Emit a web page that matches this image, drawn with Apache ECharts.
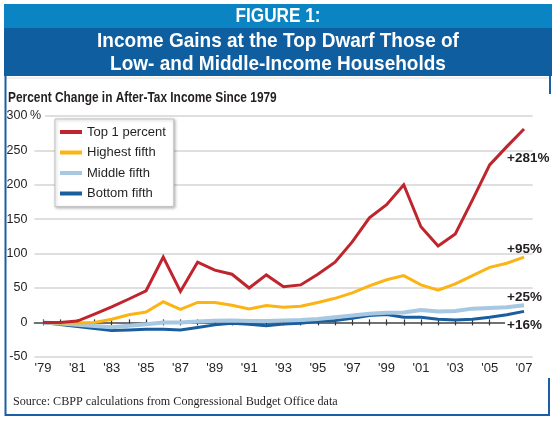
<!DOCTYPE html>
<html>
<head>
<meta charset="utf-8">
<script src="https://cdn.jsdelivr.net/npm/echarts@6/dist/echarts.min.js"></script>
<style>
  html, body { margin: 0; padding: 0; background: #fff; }
  #main { width: 555px; height: 421px; }
</style>
</head>
<body>
<div id="main"></div>
<script>
// years on the x axis
const years = ['1979', '1980', '1981', '1982', '1983', '1984', '1985', '1986', '1987', '1988',
  '1989', '1990', '1991', '1992', '1993', '1994', '1995', '1996', '1997', '1998',
  '1999', '2000', '2001', '2002', '2003', '2004', '2005', '2006', '2007']

// percent change in after-tax income since 1979
const top1 = [0, 0, 2, 12, 22.5, 34, 46, 95, 45, 87.5, 76, 70, 50, 69, 52, 54.5, 70, 87.5, 117, 152,
  171, 200, 139, 111, 128.5, 178, 229, 255.5, 281]
const highest = [0, -1, -1, 0, 4.5, 11, 15, 30, 19, 29, 29, 25, 19.5, 24.5, 22, 23.5, 29, 35, 43, 53,
  62, 68, 54.5, 47, 56, 68, 80, 86, 95]
const middle = [0, -1.7, -3.5, -5.3, -7, -4.8, -2.7, 0, 0, 1.2, 2.5, 2.7, 2, 2, 2.7, 3.5, 5, 7.5, 10, 12.5,
  14, 14.3, 18, 15.7, 16.7, 20, 21, 22, 25]
const bottom = [0, -3, -6, -9, -11.7, -11, -10, -10, -11, -7.5, -3.6, -1.2, -2.7, -5, -2.2, -1.2, 1.7, 2.7, 6, 10,
  11.5, 7.5, 7.5, 4.6, 3.6, 4.6, 7.5, 11, 16]

const seriesNames = ['Top 1 percent', 'Highest fifth', 'Middle fifth', 'Bottom fifth']

const sans = '"Liberation Sans", Arial, sans-serif'
const ink = '#231f20'

const chart = echarts.init(document.getElementById('main'))

// label at the end of each line, e.g. +281%
function endMark (data, dx, dy, bg) {
  const last = data.length - 1
  return {
    symbol: 'circle',
    symbolSize: 0,
    silent: true,
    label: {
      show: true,
      position: 'right',
      distance: 5,
      offset: [dx, dy],
      formatter: '+' + data[last] + '%',
      color: ink,
      fontFamily: sans,
      fontWeight: 'bold',
      fontSize: 13.5,
      lineHeight: 13,
      backgroundColor: bg || 'transparent',
      padding: [0, 2, 0, 2]
    },
    data: [{ coord: [years[last], data[last]] }]
  }
}

function line (name, data, color, width, mark) {
  return {
    name: name,
    type: 'line',
    data: data,
    showSymbol: false,
    symbol: 'none',
    lineStyle: { color: color, width: width, join: 'miter' },
    itemStyle: { color: color },
    markPoint: mark,
    animation: false
  }
}

// condensed text: the original uses a narrow face, so squeeze a normal one
function label (text, x, y, size, weight, color, align, sx, family) {
  return {
    type: 'text',
    x: x,
    y: y,
    scaleX: sx,
    z: 10,
    style: {
      text: text,
      fill: color,
      font: weight + ' ' + size + 'px ' + (family || sans),
      align: align,
      verticalAlign: 'middle'
    }
  }
}

const option = {
  backgroundColor: '#fff',
  animation: false,
  graphic: [
    { type: 'rect', shape: { x: 4, y: 4, width: 548, height: 24 }, style: { fill: '#0b84c4' }, z: -1 },
    { type: 'rect', shape: { x: 4, y: 28, width: 548, height: 48 }, style: { fill: '#0f5ea0' }, z: -1 },
    { type: 'line', shape: { x1: 6, y1: 78, x2: 549, y2: 78 }, style: { stroke: '#e2e2e2', lineWidth: 1 } },
    { type: 'polyline', shape: { points: [[5.5, 76], [5.5, 415], [549, 415], [549, 378]] }, style: { stroke: '#1a5fa3', lineWidth: 2, fill: null } },
    { type: 'line', shape: { x1: 550, y1: 76, x2: 550, y2: 94 }, style: { stroke: '#1a5fa3', lineWidth: 2 } },
    label('FIGURE 1:', 278, 16, 20, 'bold', '#fff', 'center', 0.86),
    label('Income Gains at the Top Dwarf Those of', 278, 41, 21, 'bold', '#fff', 'center', 0.905),
    label('Low- and Middle-Income Households', 278, 64, 21, 'bold', '#fff', 'center', 0.905),
    label('Percent Change in After-Tax Income Since 1979', 8, 98, 14.5, 'bold', ink, 'left', 0.82),
    label('Source: CBPP calculations from Congressional Budget Office data', 13, 402, 12.5, 'normal', ink, 'left', 0.97, '"Liberation Serif", serif'),
    {
      type: 'text',
      x: 29,
      y: 116,
      z: 10,
      style: {
        text: '%',
        fill: ink,
        font: '12.5px ' + sans,
        verticalAlign: 'middle',
        backgroundColor: '#fff',
        padding: [0, 4, 0, 1]
      }
    }
  ],
  legend: {
    data: seriesNames,
    orient: 'vertical',
    left: 55,
    top: 119,
    padding: [6, 8, 6, 5],
    itemGap: 6.5,
    itemWidth: 22,
    itemHeight: 4,
    icon: 'rect',
    backgroundColor: '#fff',
    borderColor: '#c4c4c4',
    borderWidth: 1,
    shadowColor: 'rgba(0,0,0,0.25)',
    shadowBlur: 3,
    shadowOffsetX: 1,
    shadowOffsetY: 1,
    selectedMode: false,
    textStyle: { color: ink, fontFamily: sans, fontSize: 13, lineHeight: 14 }
  },
  grid: { left: 34.4, right: 22.4, top: 116, bottom: 64.2 },
  xAxis: [
    {
      // labels at the bottom
      type: 'category',
      data: years,
      boundaryGap: true,
      position: 'bottom',
      axisLine: { show: false, onZero: false },
      axisTick: { show: false },
      axisLabel: {
        interval: 1,
        margin: 5,
        color: ink,
        fontFamily: sans,
        fontSize: 13,
        formatter: function (v) { return "'" + v.slice(2) }
      }
    },
    {
      // zero line with ticks pointing down
      type: 'category',
      data: years,
      boundaryGap: true,
      position: 'bottom',
      axisLine: { show: true, onZero: true, onZeroAxisIndex: 0, lineStyle: { color: '#4d4d4d', width: 1.5 } },
      axisTick: { show: true, interval: 0, alignWithLabel: true, inside: false, length: 3, lineStyle: { color: '#333', width: 1.2 } },
      axisLabel: { show: false }
    },
    {
      // ticks pointing up
      type: 'category',
      data: years,
      boundaryGap: true,
      position: 'bottom',
      axisLine: { show: false, onZero: true, onZeroAxisIndex: 0 },
      axisTick: { show: true, interval: 0, alignWithLabel: true, inside: true, length: 3, lineStyle: { color: '#333', width: 1.2 } },
      axisLabel: { show: false }
    }
  ],
  yAxis: {
    type: 'value',
    min: -50,
    max: 300,
    interval: 50,
    axisLine: { show: false },
    axisTick: { show: false },
    axisLabel: { margin: 7, color: ink, fontFamily: sans, fontSize: 12.5 },
    splitLine: { lineStyle: { color: '#d4d4d4', width: 1.5 } }
  },
  series: [
    line('Bottom fifth', bottom, '#1b5e9e', 3, endMark(bottom, -24, 14, '#fff')),
    line('Middle fifth', middle, '#a6c8e2', 4, endMark(middle, -24, -8)),
    line('Highest fifth', highest, '#fcb415', 3, endMark(highest, -24, -8)),
    line('Top 1 percent', top1, '#bf252d', 3, endMark(top1, -24, 29))
  ]
}

option && chart.setOption(option)
</script>
</body>
</html>
